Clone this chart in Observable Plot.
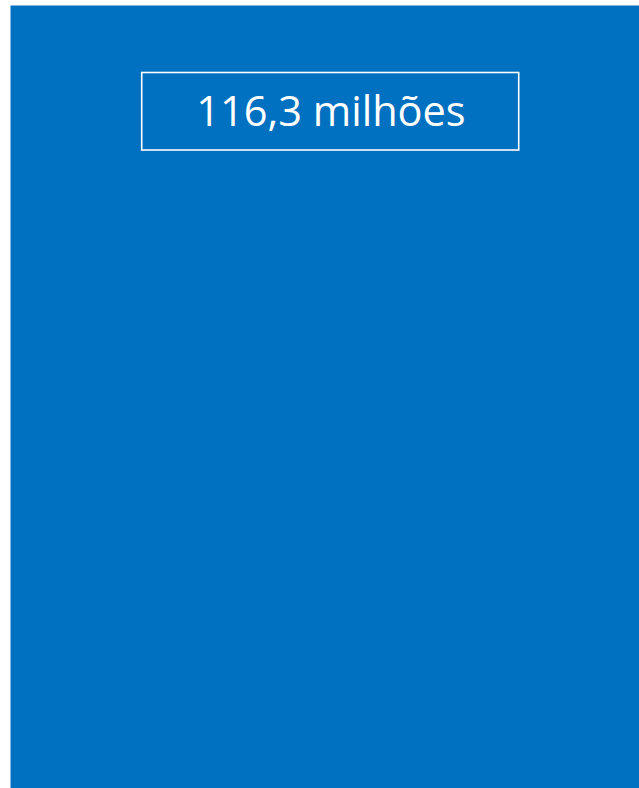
<!DOCTYPE html>
<html>
<head>
<meta charset="utf-8">
<script src="https://cdn.jsdelivr.net/npm/d3@7"></script>
<script src="https://cdn.jsdelivr.net/npm/@observablehq/plot@0.6"></script>
<style>
  html, body { margin: 0; padding: 0; background: #ffffff; }
  #chart svg { display: block; }
</style>
</head>
<body>
<div id="chart"></div>
<script>
// Data
const values = [116.3];
const units = ["milhões"];

const ptBR = d3.formatLocale({decimal: ",", thousands: ".", grouping: [3], currency: ["R$", ""]});
const fmt = ptBR.format(".1f");
const rows = values.map((v, i) => ({value: v, label: `${fmt(v)} ${units[i]}`}));

const chart = Plot.plot({
  width: 639,
  height: 788,
  marginLeft: 10,
  marginTop: 5,
  marginRight: 0,
  marginBottom: 0,
  style: {background: "#ffffff", fontFamily: "'Open Sans', sans-serif"},
  marks: [
    Plot.frame({fill: "#0070C0", stroke: null}),
    Plot.rect(rows, {
      fill: "none",
      stroke: "#ffffff",
      strokeWidth: 1.6,
      insetLeft: 131.7,
      insetRight: 120.3,
      insetTop: 67.5,
      insetBottom: 638
    }),
    Plot.text(rows, {
      text: "label",
      frameAnchor: "top",
      lineAnchor: "top",
      dx: 6,
      dy: 91.5,
      fill: "#ffffff",
      fontSize: 41.5,
      fontWeight: 400
    })
  ]
});
document.getElementById("chart").append(chart);
</script>
</body>
</html>
